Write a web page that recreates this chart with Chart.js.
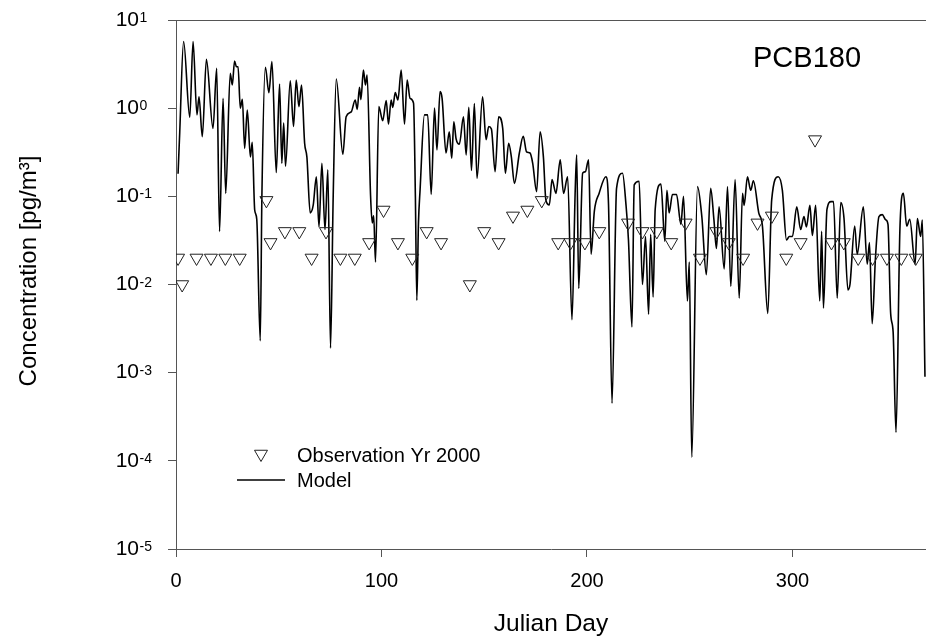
<!DOCTYPE html>
<html><head><meta charset="utf-8">
<script src="https://cdn.jsdelivr.net/npm/chart.js@4.4.0/dist/chart.umd.min.js"></script>
<style>html,body{margin:0;padding:0;background:#fff;overflow:hidden}canvas{display:block}</style>
</head><body>
<canvas id="c" width="926" height="637"></canvas>
<script>
const obsDays = [1,3,10,17,24,31,44,46,53,60,66,73,80,87,94,101,108,115,122,129,143,150,157,164,171,178,186,192,199,206,220,227,234,241,248,255,263,269,276,283,290,297,304,311,319,325,332,339,346,353,360];
const obsValues = [0.02,0.01,0.02,0.02,0.02,0.02,0.09,0.03,0.04,0.04,0.02,0.04,0.02,0.02,0.03,0.07,0.03,0.02,0.04,0.03,0.01,0.04,0.03,0.06,0.07,0.09,0.03,0.03,0.03,0.04,0.05,0.04,0.04,0.03,0.05,0.02,0.04,0.03,0.02,0.05,0.06,0.02,0.03,0.44,0.03,0.03,0.02,0.02,0.02,0.02,0.02];

const modelDays = [1.0,1.8,3.7,6.7,8.3,10.2,11.2,12.8,14.8,18.0,19.8,21.2,22.9,24.2,26.4,27.4,28.5,29.4,30.2,31.3,32.3,33.4,34.7,36.2,37.1,38.3,39.3,41.0,41.8,43.5,45.2,46.7,48.8,50.4,51.5,52.4,53.3,55.6,57.2,58.5,59.8,61.1,62.6,63.7,65.3,66.8,68.3,69.6,71.0,72.5,73.9,75.2,76.5,78.0,81.2,82.8,85.3,87.2,88.2,89.3,90.0,91.2,92.2,93.0,94.7,95.5,96.2,97.1,98.7,100.6,102.3,103.4,104.7,105.5,106.7,108.0,109.6,111.2,112.5,113.9,115.6,116.5,117.2,118.0,118.8,120.9,122.5,124.2,125.8,127.0,128.5,129.5,131.4,133.0,134.2,135.2,136.3,137.9,139.9,141.2,142.5,143.8,145.2,146.5,149.2,150.9,152.2,153.5,155.3,157.0,159.0,160.3,161.9,163.2,164.7,167.1,169.0,170.6,172.3,173.6,175.5,177.2,178.8,180.0,181.7,183.0,184.9,187.0,188.6,190.6,192.7,194.3,195.0,196.0,197.9,199.2,200.8,202.0,203.6,205.9,209.2,210.5,212.2,214.4,217.3,219.0,220.2,221.9,223.0,225.4,227.0,228.5,230.0,231.0,232.2,233.2,236.0,237.9,238.9,240.0,241.6,243.6,245.7,247.0,248.9,249.8,251.0,253.8,255.9,258.1,260.2,261.8,263.0,264.3,266.8,268.4,270.0,272.1,274.1,275.7,276.5,278.1,279.7,281.0,283.6,285.4,288.0,289.9,293.1,295.1,297.1,298.5,300.0,302.1,304.0,305.6,306.8,308.5,309.7,311.3,313.3,314.2,315.1,316.8,318.8,320.0,321.8,323.5,325.1,327.0,328.0,330.3,331.5,334.5,336.4,337.5,338.8,340.4,342.1,343.7,345.4,346.5,347.8,349.0,350.4,352.3,354.0,355.6,357.1,359.7,360.8,362.4,363.2,364.5];
const modelValues = [0.18,0.52,5.7,0.79,5.7,0.84,1.35,0.475,3.58,0.59,2.83,0.04,1.29,0.108,2.48,1.83,3.43,2.95,2.95,1.0,1.26,0.35,0.95,0.28,0.41,0.07,0.055,0.0023,0.1,2.91,1.5,3.37,0.186,1.88,0.237,0.676,0.22,2.05,0.62,2.09,1.04,1.83,0.40,0.28,0.065,0.08,0.167,0.045,0.237,0.042,0.2,0.0019,0.1,2.14,0.30,0.80,0.91,1.24,0.97,1.73,1.25,2.71,1.83,2.38,0.1,0.05,0.06,0.018,1.04,0.72,1.22,0.66,1.24,1.02,1.5,1.24,2.71,0.66,2.09,1.29,1.14,0.1,0.0066,0.05,0.12,0.84,0.84,0.105,1.0,0.336,1.54,1.29,0.31,0.54,0.27,0.70,0.45,0.39,0.80,0.295,1.02,0.196,1.13,0.16,1.35,0.44,0.62,0.58,0.19,0.80,0.59,0.183,0.40,0.28,0.14,0.31,0.48,0.32,0.31,0.237,0.113,0.54,0.28,0.091,0.08,0.155,0.108,0.26,0.108,0.167,0.004,0.12,0.295,0.009,0.183,0.19,0.26,0.022,0.068,0.108,0.167,0.08,0.00045,0.123,0.183,0.08,0.032,0.0033,0.135,0.148,0.01,0.035,0.0046,0.037,0.0072,0.071,0.138,0.031,0.117,0.065,0.105,0.105,0.048,0.1,0.0065,0.018,0.00011,0.129,0.059,0.0129,0.123,0.054,0.0257,0.076,0.015,0.129,0.0095,0.155,0.007,0.108,0.079,0.167,0.117,0.15,0.065,0.046,0.0047,0.091,0.167,0.117,0.032,0.035,0.035,0.076,0.042,0.059,0.045,0.079,0.036,0.079,0.0065,0.04,0.0054,0.071,0.087,0.087,0.007,0.085,0.056,0.0087,0.01,0.046,0.022,0.076,0.017,0.03,0.0036,0.02,0.059,0.062,0.054,0.048,0.0047,0.0029,0.00021,0.042,0.108,0.046,0.055,0.017,0.056,0.035,0.054,0.0009];

const yTickValues = [1e1,1e0,1e-1,1e-2,1e-3,1e-4,1e-5];
const yTickBase = '10';
const yTickExponents = ['1','0','-1','-2','-3','-4','-5'];
const xTickValues = [0,100,200,300];
const xTitle = 'Julian Day';
const yTitle = 'Concentration [pg/m\u00B3]';
const seriesNames = ['Observation Yr 2000','Model'];
const panelLabel = 'PCB180';

const FONT = '"Liberation Sans", Arial, Helvetica, sans-serif';
const AXIS = '#555';
const BASE_RIGHT = 139;   // right edge of the "10" of each y tick label

const extras = {
  id: 'extras',
  afterDraw(chart) {
    const ctx = chart.ctx, a = chart.chartArea, ys = chart.scales.y;
    ctx.save();
    // top frame line
    ctx.strokeStyle = AXIS; ctx.lineWidth = 1;
    ctx.beginPath(); ctx.moveTo(a.left, a.top + 0.5); ctx.lineTo(chart.width, a.top + 0.5); ctx.stroke();
    // exponents of the y tick labels
    ctx.fillStyle = '#000';
    ctx.font = '14px ' + FONT;
    ctx.textAlign = 'left'; ctx.textBaseline = 'alphabetic';
    ys.ticks.forEach((t, i) => {
      const y = ys.getPixelForValue(t.value);
      ctx.fillText(yTickExponents[i], BASE_RIGHT + 0.5, y + 2);
    });
    // y title
    ctx.font = '24px ' + FONT;
    ctx.translate(36, 271);
    ctx.rotate(-Math.PI / 2);
    ctx.textAlign = 'center';
    ctx.fillText(yTitle, 0, 0);
    ctx.restore();
    ctx.save();
    // panel label
    ctx.fillStyle = '#000';
    ctx.font = '29px ' + FONT;
    ctx.textAlign = 'left'; ctx.textBaseline = 'alphabetic';
    ctx.fillText(panelLabel, 753, 67);
    // legend
    ctx.strokeStyle = '#222'; ctx.lineWidth = 1; ctx.fillStyle = 'rgba(0,0,0,0)';
    Chart.helpers.drawPoint(ctx, {pointStyle: 'triangle', rotation: 180, radius: 7.5, borderWidth: 1}, 261, 454);
    ctx.strokeStyle = '#000'; ctx.lineWidth = 1.6;
    ctx.beginPath(); ctx.moveTo(237, 480); ctx.lineTo(285, 480); ctx.stroke();
    ctx.fillStyle = '#000';
    ctx.font = '20px ' + FONT;
    ctx.textBaseline = 'middle';
    ctx.fillText(seriesNames[0], 297, 456);
    ctx.fillText(seriesNames[1], 297, 481);
    ctx.restore();
  }
};

new Chart(document.getElementById('c'), {
  data: {
    datasets: [
      {
        type: 'line',
        label: seriesNames[1],
        data: modelDays.map((d, i) => ({x: d, y: modelValues[i]})),
        borderColor: '#000',
        borderWidth: 1.6,
        pointRadius: 0,
        cubicInterpolationMode: 'monotone',
        fill: false,
        order: 2
      },
      {
        type: 'scatter',
        label: seriesNames[0],
        data: obsDays.map((d, i) => ({x: d, y: obsValues[i]})),
        pointStyle: 'triangle',
        rotation: 180,
        radius: 7.5,
        borderColor: '#222',
        borderWidth: 1,
        backgroundColor: 'rgba(0,0,0,0)',
        order: 1
      }
    ]
  },
  options: {
    responsive: false,
    animation: false,
    devicePixelRatio: 1,
    layout: {autoPadding: false, padding: {top: 20, right: 0, left: 0, bottom: 0}},
    plugins: {legend: {display: false}, tooltip: {enabled: false}},
    scales: {
      x: {
        type: 'linear', min: 0, max: 365,
        afterBuildTicks: s => { s.ticks = xTickValues.map(v => ({value: v})); },
        afterFit: s => { s.height = 88; s.paddingLeft = 0; s.paddingRight = 0; },
        ticks: {color: '#000', font: {family: FONT, size: 20}, padding: 12, maxRotation: 0},
        grid: {drawOnChartArea: false, drawTicks: true, tickLength: 8, color: AXIS, lineWidth: 1},
        border: {display: true, color: AXIS, width: 1},
        title: {display: true, text: xTitle, color: '#000', font: {family: FONT, size: 24.5}, padding: {top: 0, bottom: -2}}
      },
      y: {
        type: 'logarithmic', min: 1e-5, max: 10,
        afterBuildTicks: s => { s.ticks = yTickValues.map(v => ({value: v})); },
        afterFit: s => { s.width = 176; s.paddingTop = 0; s.paddingBottom = 0; },
        ticks: {
          color: '#000', font: {family: FONT, size: 21}, padding: 29,
          callback: () => yTickBase
        },
        grid: {drawOnChartArea: false, drawTicks: true, tickLength: 8, color: AXIS, lineWidth: 1},
        border: {display: true, color: AXIS, width: 1}
      }
    }
  },
  plugins: [extras]
});
</script>
</body></html>
